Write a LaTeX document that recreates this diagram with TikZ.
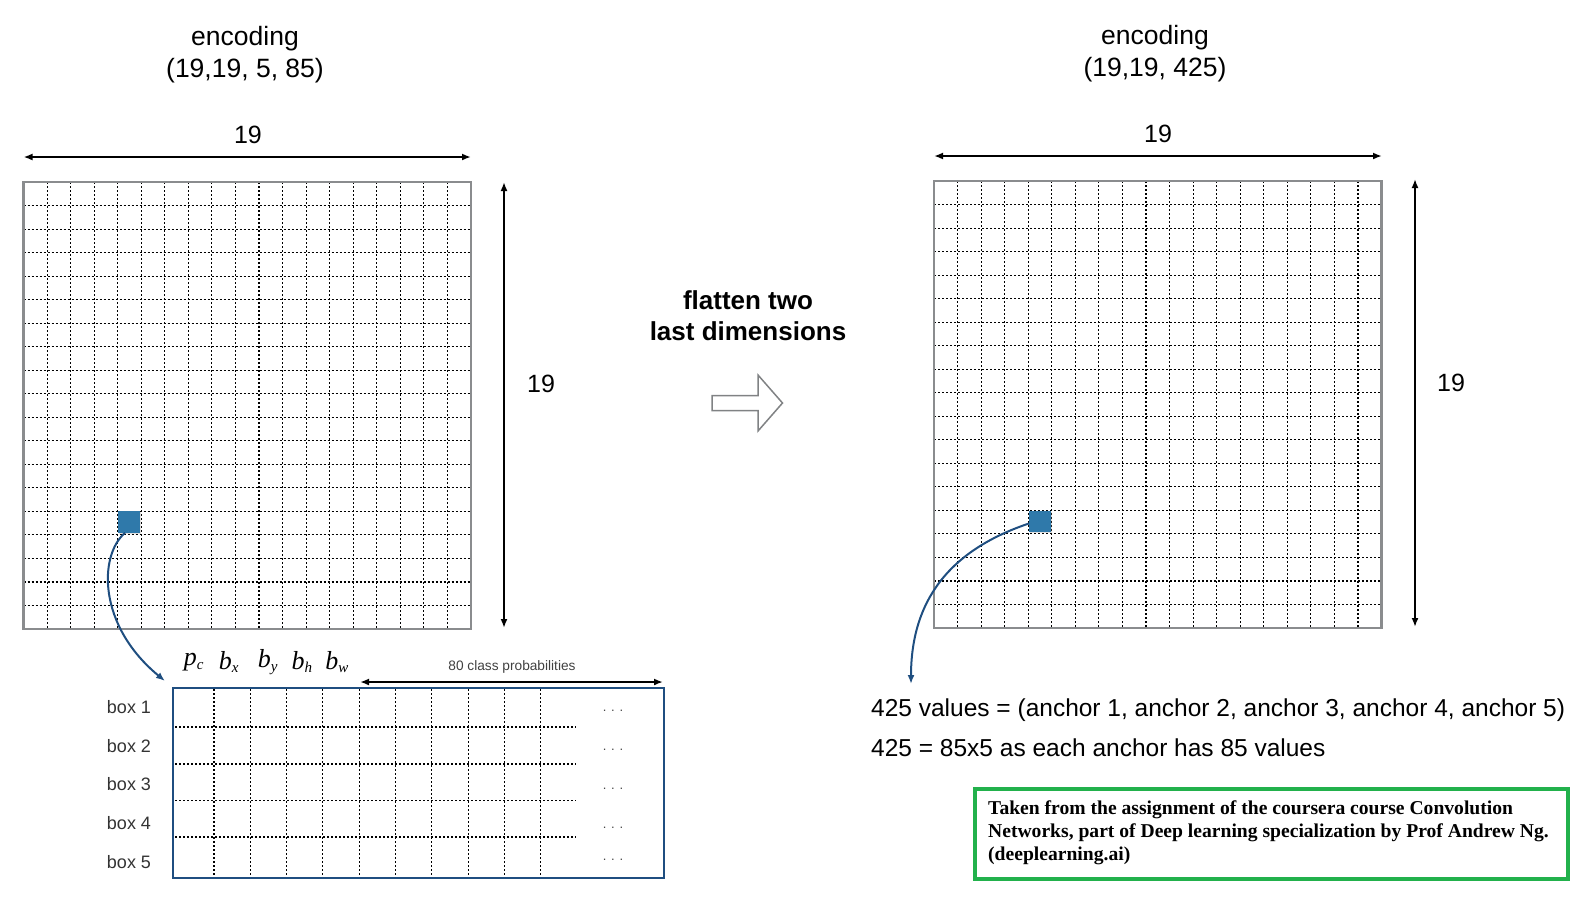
\documentclass[tikz,border=0pt]{standalone}
\usepackage{fontspec}
\setmainfont{Liberation Sans}
\newfontfamily\tnr{Liberation Serif}
\usetikzlibrary{arrows.meta,shadows}
\definecolor{gridgray}{RGB}{138,140,142}
\definecolor{cellblue}{RGB}{47,121,170}
\definecolor{arrowblue}{RGB}{31,78,128}
\definecolor{boxgreen}{RGB}{34,177,76}
\definecolor{hollowgray}{RGB}{128,130,132}
\definecolor{dotgray}{RGB}{70,70,70}
\newcommand\vlab[2]{{\tnr\itshape #1}\textsubscript{\tnr\itshape\fontsize{15}{15}\selectfont #2}}
\begin{document}
\begin{tikzpicture}[x=1pt,y=-1pt,
  gridbox/.style={draw=gridgray,line width=2.5pt,minimum width=447.5pt,minimum height=447pt,inner sep=0},
  dotline/.style={line width=1.1pt,dash pattern=on 2pt off 2pt},
  dimarrow/.style={line width=2pt,{Latex[length=9pt,width=7pt]}-{Latex[length=9pt,width=7pt]}},
  bluearrow/.style={draw=arrowblue,line width=2pt,-{Latex[length=9pt,width=7pt]}},
  cellsq/.style={fill=cellblue,minimum size=21.5pt,inner sep=0,anchor=north west,
     drop shadow={opacity=0.25,shadow xshift=1pt,shadow yshift=-1pt}},
  bigtxt/.style={font=\fontsize{26.5}{32.5}\selectfont,align=center},
  dimtxt/.style={font=\fontsize{25}{25}\selectfont},
  boxlab/.style={font=\fontsize{18}{18}\selectfont,text=black!80},
  dots/.style={font=\fontsize{13}{13}\selectfont,text=dotgray},
  vlabel/.style={font=\fontsize{26}{26}\selectfont,inner sep=0},
  infotxt/.style={font=\fontsize{24.5}{24.5}\selectfont,anchor=west,inner sep=0},
]
\useasboundingbox (0,0) rectangle (1582,898);

% ---------- left grid ----------
\foreach \i in {1,...,18} {
  \draw[dotline] (23.5+\i*23.553,182) -- (23.5+\i*23.553,629);
  \draw[dotline] (23.5,182+\i*23.526) -- (471,182+\i*23.526);
}
\node[gridbox] (g1) at (247.25,405.5) {};
\node[cellsq] (sq1) at (118,511) {};

% ---------- right grid ----------
\foreach \i in {1,...,18} {
  \draw[dotline] (934+\i*23.553,181) -- (934+\i*23.553,628);
  \draw[dotline] (934,181+\i*23.526) -- (1381.5,181+\i*23.526);
}
\node[gridbox] (g2) at (1157.75,404.5) {};
\node[cellsq] (sq2) at (1029,510.5) {};

% ---------- titles ----------
\node[bigtxt] (t1) at (245,54.5) {encoding\\(19,19, 5, 85)};
\node[bigtxt] (t2) at (1155,53.5) {encoding\\(19,19, 425)};

% ---------- dimension arrows ----------
\coordinate (h1a) at (23.5,157);
\coordinate (h1b) at (471,157);
\draw[dimarrow] (h1a) -- (h1b);
\node[dimtxt] (n19a) at (248,135) {19};
\coordinate (v1a) at (504,182);
\coordinate (v1b) at (504,628);
\draw[dimarrow] (v1a) -- (v1b);
\node[dimtxt] (n19b) at (541,384) {19};

\coordinate (h2a) at (934,156);
\coordinate (h2b) at (1382,156);
\draw[dimarrow] (h2a) -- (h2b);
\node[dimtxt] (n19c) at (1158,134) {19};
\coordinate (v2a) at (1415,179);
\coordinate (v2b) at (1415,627);
\draw[dimarrow] (v2a) -- (v2b);
\node[dimtxt] (n19d) at (1451,383) {19};

% ---------- middle ----------
\node[font=\bfseries\fontsize{26}{31}\selectfont,align=center] (flat) at (748,315.5) {flatten two\\last dimensions};
\draw[hollowgray,line width=1.5pt,fill=white]
  (712,395.5) -- (758,395.5) -- (758,375) -- (782.5,403) -- (758,431) -- (758,410.5) -- (712,410.5) -- cycle;

% ---------- table ----------
\foreach \k in {0,...,9} {
  \draw[dotline] (214+\k*36.3,689) -- (214+\k*36.3,877);
}
\foreach \yy in {727,764,800.5,837} {
  \draw[dotline] (175,\yy) -- (576,\yy);
}
\node[draw=arrowblue,line width=2pt,minimum width=491.3pt,minimum height=189.4pt,inner sep=0] (tab) at (418.35,783) {};
\foreach \yy/\j in {707/1,746/2,784.5/3,823/4,862/5} {
  \node[boxlab] (bx\j) at (129,\yy) {box \j};
}
\foreach \yy/\j in {711/1,749.5/2,788.5/3,827.5/4,859.5/5} {
  \node[dots] (dt\j) at (613,\yy) {. . .};
}
\node[vlabel] (pc) at (194,662) {\vlab{p}{c}};
\node[vlabel] (bxl) at (229,662) {\vlab{b}{x}};
\node[vlabel] (byl) at (268,662) {\vlab{b}{y}};
\node[vlabel] (bhl) at (302,662) {\vlab{b}{h}};
\node[vlabel] (bwl) at (337,662) {\vlab{b}{w}};
\coordinate (cpL) at (360,682);
\coordinate (cpR) at (663,682);
\draw[line width=2pt,{Latex[length=9pt,width=7pt]}-{Latex[length=9pt,width=7pt]}] (cpL) -- (cpR);
\node[font=\fontsize{13.7}{13.7}\selectfont,text=black!75] (cls) at (512,667) {80 class probabilities};

% ---------- curved arrows ----------
\coordinate (tip1) at (165,681);
\draw[bluearrow] ([xshift=-4pt]sq1.south) .. controls (99,555) and (97,625) .. (tip1);
\coordinate (tip2) at (911,684);
\draw[bluearrow] ([yshift=-2pt]sq2.west) .. controls (950,550) and (911,600) .. (tip2);

% ---------- info text ----------
\node[infotxt] (i1) at (871,710) {425 values = (anchor 1, anchor 2, anchor 3, anchor 4, anchor 5)};
\node[infotxt] (i2) at (871,748) {425 = 85x5 as each anchor has 85 values};

% ---------- credit box ----------
\node[draw=boxgreen,line width=4pt,minimum width=593pt,minimum height=90pt,inner sep=0] (cred) at (1271,833.5) {};
\node[font=\tnr\bfseries\fontsize{19.6}{23.2}\selectfont,align=left,anchor=west,inner sep=0] (credt) at (988,833)
  {Taken from the assignment of the coursera course Convolution\\Networks, part of Deep learning specialization by Prof Andrew Ng.\\(deeplearning.ai)};
\end{tikzpicture}
\end{document}
